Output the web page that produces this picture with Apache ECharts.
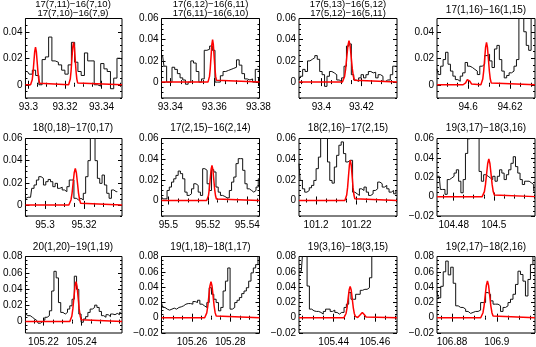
<!DOCTYPE html>
<html><head><meta charset="utf-8">
<script src="https://cdn.jsdelivr.net/npm/echarts@6/dist/echarts.min.js"></script>
<style>html,body{margin:0;padding:0;background:#fff}#c{width:536px;height:347px}</style>
</head><body><div id="c"></div>
<script>
// ---------- data ----------
const titles = [
  ["17(7,11)\u221216(7,10)", "17(7,10)\u221216(7,9)"],
  ["17(6,12)\u221216(6,11)", "17(6,11)\u221216(6,10)"],
  ["17(5,13)\u221216(5,12)", "17(5,12)\u221216(5,11)"],
  ["17(1,16)\u221216(1,15)"],
  ["18(0,18)\u221217(0,17)"],
  ["17(2,15)\u221216(2,14)"],
  ["18(2,16)\u221217(2,15)"],
  ["19(3,17)\u221218(3,16)"],
  ["20(1,20)\u221219(1,19)"],
  ["19(1,18)\u221218(1,17)"],
  ["19(3,16)\u221218(3,15)"],
  ["19(2,17)\u221218(2,16)"]
];
const xMin = [93.2984, 93.336, 93.3888, 94.5851, 95.29, 95.4965, 101.1915, 104.4717, 105.2106, 105.244, 105.4232, 106.8733];
const xMax = [93.3512, 93.3805, 93.4378, 94.632, 95.3394, 95.5462, 101.2402, 104.5205, 105.2612, 105.2953, 105.4707, 106.917];
const yMin = [-0.01, -0.015, -0.015, -0.01, -0.01, -0.015, -0.015, -0.02, -0.014, -0.02, -0.02, -0.02];
const yMax = [0.05, 0.06, 0.06, 0.05, 0.06, 0.06, 0.06, 0.06, 0.08, 0.08, 0.08, 0.08];
const xTicks = [
  [93.3, 93.32, 93.34], [93.34, 93.36, 93.38], [93.4, 93.42], [94.6, 94.62],
  [95.3, 95.32], [95.5, 95.52, 95.54], [101.2, 101.22], [104.48, 104.5],
  [105.22, 105.24], [105.26, 105.28], [105.44, 105.46], [106.88, 106.9]
];
const yTicks = [
  [0, 0.02, 0.04], [0, 0.02, 0.04, 0.06], [0, 0.02, 0.04, 0.06], [0, 0.02, 0.04],
  [0, 0.02, 0.04, 0.06], [0, 0.02, 0.04, 0.06], [0, 0.02, 0.04, 0.06], [-0.02, 0, 0.02, 0.04, 0.06],
  [0, 0.02, 0.04, 0.06, 0.08], [-0.02, 0, 0.02, 0.04, 0.06, 0.08], [-0.02, 0, 0.02, 0.04, 0.06, 0.08], [-0.02, 0, 0.02, 0.04, 0.06, 0.08]
];
// first channel frequency and channel width of each observed spectrum
const obsStart = [93.2995, 93.3365, 93.3888, 94.5851, 95.2902, 95.4965, 101.1915, 104.4717, 105.2107, 105.244, 105.4232, 106.8733];
const obsStep = [0.00178, 0.00122, 0.001217, 0.00117, 0.0012, 0.001128, 0.001133, 0.001133, 0.001186, 0.001217, 0.00112, 0.001111];

const obs1 = [0.010,0.008,0.011,0.007,0.0,0.019,0.021,0.036,0.018,0.017,0.015,0.011,0.008,0.015,0.032,0.017,0.010,0.007,0.024,0.018,0.018,0.0,-0.001,0.016,0.012,0.010,-0.003,0.005,0.020,0.019];
const obs2 = [0.025,0.015,0.0,0.0,0.014,0.012,0.008,0.004,0.002,-0.002,0.0,0.020,0.018,0.010,0.0,0.003,0.030,0.031,0.034,0.030,0.0,0.0,0.006,0.010,0.011,0.012,0.013,0.014,0.021,0.016,0.008,0.003,0.002,0.003,0.0,0.012,0.011];
const obs3 = [0.002,0.0055,0.012,0.010,0.020,0.0215,0.023,0.025,0.0215,0.010,0.007,-0.004,0.0055,0.010,0.0087,0.007,0.002,0.0006,0.004,0.015,0.034,0.036,0.007,0.002,0.0006,0.004,0.007,0.004,0.007,0.010,0.0087,0.0093,0.004,0.007,0.0055,0.0006,0.002,0.002,0.007,0.015,0.015];
const obs4 = [0.012,0.0077,0.014,0.019,0.0245,0.0155,0.0103,0.0065,0.0039,0.0026,0.0065,0.009,0.0168,0.014,0.013,0.0116,0.0103,0.0077,0.014,0.0155,0.022,0.023,0.018,0.013,0.027,0.0297,0.019,0.0103,0.0052,0.007,0.009,0.0103,0.014,0.019,0.055,0.055,0.040,0.0297,0.026,0.055];
const obs5 = [0.006,0.0069,0.0069,0.015,0.018,0.0225,0.0255,0.024,0.018,0.021,0.023,0.021,0.0165,0.0195,0.015,0.016,0.0135,0.012,0.0165,0.0225,0.0225,0.006,0.0045,0.006,0.0045,0.0105,0.0255,0.040,0.060,0.065,0.040,0.024,0.0195,0.027,0.018,0.0105,0.006,0.0135,0.012,0.012];
const obs6 = [0.0039,0.0016,0.0016,0.0097,0.013,0.0178,0.021,0.0243,0.0285,0.026,0.021,0.0081,0.0049,0.0065,0.0113,0.0162,0.0146,0.0081,0.0049,0.0308,0.0292,0.0162,0.0097,0.0298,0.0276,0.013,0.0081,0.0049,0.0039,0.0026,0.0026,0.0097,0.0178,0.0227,0.0357,0.0405,0.0405,0.0292,0.0162,0.0113,0.0097,0.0081,0.0097,0.013,0.021];
const obs7 = [0.0357,0.0194,0.0113,0.0081,0.0097,0.0123,0.0146,0.0194,0.0308,0.042,0.060,0.068,0.062,0.0373,0.0194,0.0168,0.0324,0.0437,0.0535,0.0567,0.0454,0.0373,0.0389,0.0389,0.0081,0.0065,0.0049,0.0113,0.0097,0.013,0.0081,0.0049,0.0065,0.0097,0.0113,0.0178,0.0162,0.013,0.0146,0.0113,0.0081,0.0097,0.0065,0.0097];
const obs8 = [0.021,0.021,0.0074,0.0074,0.0024,0.0176,0.0192,0.021,0.0243,0.0277,0.0159,0.004,0.0176,0.0446,0.0597,0.07,0.07,0.07,0.07,0.026,0.0159,0.0226,0.021,0.0192,0.0176,0.021,0.0159,0.021,0.0277,0.0243,0.0176,0.0226,0.0277,0.0344,0.0412,0.031,0.0243,0.0176,0.0125,0.0159,0.0159,0.0142,0.0125,0.0057];
const obs9 = [0.0093,0.0073,0.0073,0.0053,0.0032,0.0012,-0.002,0,0.002,0.0053,0.0073,0.0133,0.0376,0.0618,0.0537,0.0234,0.0113,0.0093,0.0113,0.0154,0.0194,0.0275,0.0558,0.0396,0.0093,-0.0008,0.0032,0.0061,0.0113,0.0154,0.0174,0.0202,0.0174,0.0125,0.0073,0.0053,0.0085,0.0061,0.0093,0.0085,0.0101,0.0085,0.0113];
const obs10 = [0.0198,0.0134,0.0112,0.0099,0.0112,0.0125,0.0112,0.0134,0.0142,0.0155,0.0177,0.0185,0.0185,0.0177,0.0211,0.0198,0.0228,0.0177,0.0155,0.0134,0.0198,0.0392,0.0306,0.0241,0.0198,0.009,0.0134,0.0349,0.0478,0.065,0.0112,0.0134,0.0198,0.0228,0.0263,0.0315,0.0349,0.0392,0.0478,0.0586,0.065,0.0694,0.080];
const obs11 = [0.0608,0.0608,0.082,0.082,0.0414,0.0112,0.009,0.0082,0.0082,0.0069,0.0047,0.0082,0.0112,0.0112,0.0082,0.0099,0.0069,0.0047,0.0069,0.0069,0.0134,0.0177,0.0328,0.0241,0.0241,0.0306,0.0306,0.0358,0.0371,0.0371,0.0392,0.0522,0.09,0.09,0.09,0.09,0.09,0.09,0.09,0.09,0.09,0.09,0.09];
const obs12 = [0.035,0.026,0.041,0.060,0.074,0.056,0.066,0.045,0.0155,0.0134,0.0134,0.0112,0.0082,0.0056,0.0069,0.0082,0.0082,0.0099,0.0198,0.0198,0.0328,0.0306,0.022,0.0177,0.0177,0.0155,0.0082,0.0134,0.0155,0.0198,0.0241,0.0306,0.0435,0.0608,0.0565,0.0478,0.0284,0.05,0.0694,0.08];

// fitted line profiles (red), read as [frequency, intensity]
const fit1 = [[93.3012,0],[93.30165,0.0012],[93.3021,0.0038],[93.30255,0.0092],[93.303,0.0172],[93.30345,0.025],[93.3039,0.0284],[93.30435,0.025],[93.3048,0.0172],[93.30525,0.0092],[93.3057,0.0038],[93.30615,0.0012],[93.3066,0],
  [93.322,0],[93.32245,0.0014],[93.3229,0.0043],[93.32335,0.0104],[93.3238,0.0194],[93.32425,0.0282],[93.3247,0.032],[93.32515,0.0282],[93.3256,0.0194],[93.32605,0.0104],[93.3265,0.0043],[93.32695,0.0014],[93.3274,0]];
const fit2 = [[93.3571,0],[93.35745,0.0018],[93.3578,0.0054],[93.35815,0.013],[93.3585,0.0243],[93.35885,0.0353],[93.3592,0.04],[93.35955,0.0353],[93.3599,0.0243],[93.36025,0.013],[93.3606,0.0054],[93.36095,0.0018],[93.3613,0]];
const fit3 = [[93.4105,0],[93.41105,0.0017],[93.4116,0.0053],[93.41215,0.0127],[93.4127,0.0237],[93.41325,0.0344],[93.4138,0.039],[93.41435,0.0344],[93.4149,0.0237],[93.41545,0.0127],[93.416,0.0053],[93.41655,0.0017],[93.4171,0]];
const fit4 = [[94.5976,0],[94.598,0.0002],[94.5984,0.0006],[94.5988,0.0014],[94.5992,0.0027],[94.5996,0.0039],[94.6,0.0044],[94.6004,0.0039],[94.6008,0.0027],[94.6012,0.0014],[94.6016,0.0006],[94.602,0.0002],[94.6024,0],
  [94.6061,0],[94.60655,0.0014],[94.607,0.0043],[94.60745,0.0104],[94.6079,0.0194],[94.60835,0.0282],[94.6088,0.032],[94.60925,0.0282],[94.6097,0.0194],[94.61015,0.0104],[94.6106,0.0043],[94.61105,0.0014],[94.6115,0]];
const fit5 = [[95.3122,0],[95.31275,0.0015],[95.3133,0.0045],[95.31385,0.0107],[95.3144,0.02],[95.31495,0.0291],[95.3155,0.033],[95.31605,0.0291],[95.3166,0.02],[95.31715,0.0107],[95.3177,0.0045],[95.31825,0.0015],[95.3188,0]];
const fit6 = [[95.5194,0],[95.51985,0.0015],[95.5203,0.0046],[95.52075,0.0111],[95.5212,0.0206],[95.52165,0.03],[95.5221,0.034],[95.52255,0.03],[95.523,0.0206],[95.52345,0.0111],[95.5239,0.0046],[95.52435,0.0015],[95.5248,0]];
const fit7 = [[101.2143,0],[101.21475,0.0017],[101.2152,0.0053],[101.21565,0.0127],[101.2161,0.0237],[101.21655,0.0344],[101.217,0.039],[101.21745,0.0344],[101.2179,0.0237],[101.21835,0.0127],[101.2188,0.0053],[101.21925,0.0017],[101.2197,0]];
const fit8 = [[104.4942,0],[104.49475,0.0017],[104.4953,0.0052],[104.49585,0.0126],[104.4964,0.0236],[104.49695,0.0342],[104.4975,0.0388],[104.49805,0.0342],[104.4986,0.0236],[104.49915,0.0126],[104.4997,0.0052],[104.50025,0.0017],[104.5008,0]];
const fit9 = [[105.2338,0],[105.23435,0.0022],[105.2349,0.0066],[105.23545,0.0159],[105.236,0.0297],[105.23655,0.0432],[105.2371,0.049],[105.23765,0.0432],[105.2382,0.0297],[105.23875,0.0159],[105.2393,0.0066],[105.23985,0.0022],[105.2404,0]];
const fit10 = [[105.2666,0],[105.26715,0.0021],[105.2677,0.0063],[105.26825,0.0153],[105.2688,0.0285],[105.26935,0.0415],[105.2699,0.047],[105.27045,0.0415],[105.271,0.0285],[105.27155,0.0153],[105.2721,0.0063],[105.27265,0.0021],[105.2732,0]];
const fit11 = [[105.445,0],[105.4455,0.0018],[105.446,0.0055],[105.4465,0.0133],[105.447,0.0249],[105.4475,0.0362],[105.448,0.041],[105.4485,0.0362],[105.449,0.0249],[105.4495,0.0133],[105.45,0.0055],[105.4505,0.0018],[105.451,0],
  [105.4512,0],[105.45165,0.0003],[105.4521,0.0009],[105.45255,0.0022],[105.453,0.0042],[105.45345,0.0061],[105.4539,0.0069],[105.45435,0.0061],[105.4548,0.0042],[105.45525,0.0022],[105.4557,0.0009],[105.45615,0.0003],[105.4566,0]];
const fit12 = [[106.8928,0],[106.8933,0.0021],[106.8938,0.0065],[106.8943,0.0156],[106.8948,0.0291],[106.8953,0.0423],[106.8958,0.048],[106.8963,0.0423],[106.8968,0.0291],[106.8973,0.0156],[106.8978,0.0065],[106.8983,0.0021],[106.8988,0]];

const obsAll = [obs1, obs2, obs3, obs4, obs5, obs6, obs7, obs8, obs9, obs10, obs11, obs12];
const fitAll = [fit1, fit2, fit3, fit4, fit5, fit6, fit7, fit8, fit9, fit10, fit11, fit12];

// ---------- layout ----------
const colLeft = [24, 161.5, 299, 437];
const rowTop = [18.5, 138.5, 256.5];
const rowH = [79.5, 77.5, 77.5];
const boxW = 98;
const titleY = [[4, 13.5], [128], [247.5]];
const FONT = '"Liberation Sans", Arial, Helvetica, sans-serif';

function fmt(v) {
  const s = String(+(+v).toFixed(4));
  return s.charAt(0) === '-' ? '\u2212' + s.slice(1) : s;
}
function minors(lo, hi, step, majors) {
  const out = [];
  const k0 = Math.ceil(lo / step - 1e-6), k1 = Math.floor(hi / step + 1e-6);
  for (let k = k0; k <= k1; k++) {
    const v = +(k * step).toFixed(6);
    if (!majors.some(m => Math.abs(m - v) < step * 0.01)) out.push(v);
  }
  return out;
}

const grids = [], xAxes = [], yAxes = [], series = [], graphics = [];
for (let i = 0; i < 12; i++) {
  const r = Math.floor(i / 4), c = i % 4;
  grids.push({left: colLeft[c], top: rowTop[r], width: boxW, height: rowH[r],
    show: true, borderColor: '#000', borderWidth: 1, backgroundColor: 'transparent'});
  const xm = minors(xMin[i], xMax[i], 0.005, xTicks[i]);
  const ym = minors(yMin[i], yMax[i], 0.005, yTicks[i]);
  const mk = (isX, pos, ticks, len, label) => ({
    gridIndex: i, type: 'value', position: pos,
    min: isX ? xMin[i] : yMin[i], max: isX ? xMax[i] : yMax[i],
    splitLine: {show: false}, axisLine: {show: false},
    axisTick: {show: true, inside: true, length: len, customValues: ticks, lineStyle: {color: '#000', width: 1}},
    axisLabel: label ? {show: true, customValues: isX ? xTicks[i] : yTicks[i], formatter: fmt,
      fontSize: 10, color: '#000', fontFamily: FONT, margin: isX ? 4 : 3} : {show: false}
  });
  const xi = xAxes.length, yi = yAxes.length;
  xAxes.push(mk(true, 'bottom', xTicks[i], 4, true), mk(true, 'bottom', xm, 2, false),
             mk(true, 'top', xTicks[i], 4, false), mk(true, 'top', xm, 2, false));
  yAxes.push(mk(false, 'left', yTicks[i], 4, true), mk(false, 'left', ym, 2, false),
             mk(false, 'right', yTicks[i], 4, false), mk(false, 'right', ym, 2, false));
  series.push({type: 'line', xAxisIndex: xi, yAxisIndex: yi, step: 'middle', symbol: 'none',
    data: obsAll[i].map((v, k) => [obsStart[i] + k * obsStep[i], v]),
    lineStyle: {color: '#111', width: 1}, animation: false, silent: true});
  series.push({type: 'line', xAxisIndex: xi, yAxisIndex: yi, symbol: 'none',
    data: [[xMin[i], 0]].concat(fitAll[i], [[xMax[i], 0]]),
    lineStyle: {color: '#ff0000', width: 1.5}, animation: false, silent: true});
  const cx = colLeft[c] + boxW / 2;
  const ys = titles[i].length === 2 ? titleY[0] : (r === 0 ? [10] : titleY[r]);
  const fs = titles[i].length === 2 ? '9.5px ' : '10px ';
  titles[i].forEach((t, k) => graphics.push({type: 'text', x: cx, y: ys[k], silent: true,
    style: {text: t, textAlign: 'center', textVerticalAlign: 'middle', font: fs + FONT, fill: '#000'}}));
}

const chart = echarts.init(document.getElementById('c'), null, {renderer: 'canvas'});
chart.setOption({backgroundColor: '#fff', animation: false, grid: grids, xAxis: xAxes, yAxis: yAxes,
  series: series, graphic: graphics});
</script></body></html>
